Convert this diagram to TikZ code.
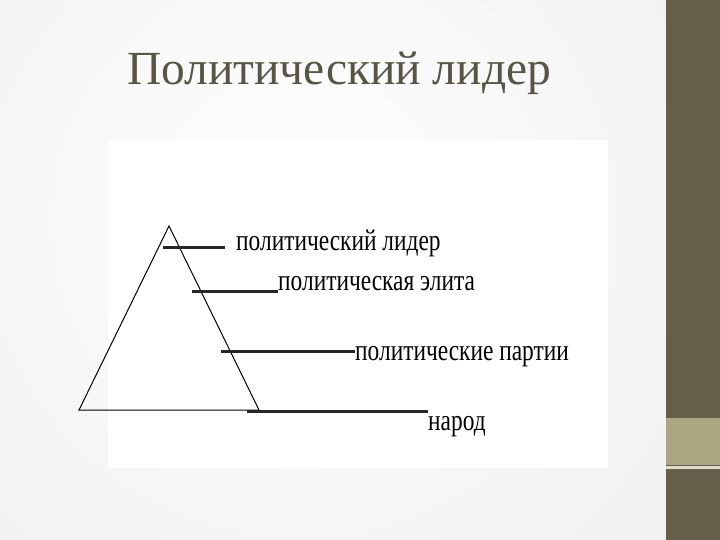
\documentclass[tikz,border=0pt]{standalone}
\usepackage{fontspec}
\setmainfont{Liberation Serif}
\newfontfamily\tierfont[FakeStretch=0.78]{Liberation Serif}
\usetikzlibrary{positioning}
\definecolor{slidebg}{RGB}{234,234,234}
\definecolor{barbrown}{RGB}{102,94,72}
\definecolor{bartan}{RGB}{171,166,129}
\definecolor{titlegray}{RGB}{88,84,70}

\begin{document}
\begin{tikzpicture}[
    x=1pt, y=-1pt,
    edge/.style={line width=1pt, line join=miter},
    rung/.style={line width=3pt, draw=black!85},
    tier/.style={font=\tierfont\fontsize{30}{30}\selectfont,
                 inner sep=0pt, anchor=base west}
]
\useasboundingbox (0,0) rectangle (720,540);

% 1) Slide background and side bar.
\fill[slidebg] (0,0) rectangle (720,540);
\shade[inner color=white, outer color=slidebg] (300,220) circle (700);
\fill[barbrown] (666,0) rectangle (720,540);
\fill[bartan] (666,418) rectangle (720,465);
\fill[bartan!40] (666,466) rectangle (720,469);

% 2) Title.
\node[font=\fontsize{47.5}{47.5}\selectfont, text=titlegray,
      inner sep=0pt, anchor=base west] (title) at (127,85)
   {Политический лидер};

% 3) White picture area.
\fill[white] (108,140) rectangle (608,468);

% 4) Pyramid.
\coordinate (apex) at (169,226);
\coordinate (baseL) at (79,410);
\coordinate (baseR) at (259,410);
\draw[edge] (apex) -- (baseL) -- (baseR) -- cycle;

% 5) Tiers with their labels.
\node[tier] (leader) at (236,250) {политический лидер};
\coordinate (leaderL) at (163,247);
\coordinate (leaderR) at (225,247);
\draw[rung] (leaderL) -- (leaderR);

\node[tier] (elite) at (278,290) {политическая элита};
\coordinate (eliteL) at (192,291);
\draw[rung] (eliteL) -- (eliteL -| elite.west);

\node[tier] (parties) at (355,360) {политические партии};
\coordinate (partiesL) at (221,351);
\draw[rung] (partiesL) -- (partiesL -| parties.west);

\node[tier] (people) at (428,430) {народ};
\coordinate (peopleL) at (247,411.5);
\draw[rung] (peopleL) -- (peopleL -| people.west);

\end{tikzpicture}
\end{document}
